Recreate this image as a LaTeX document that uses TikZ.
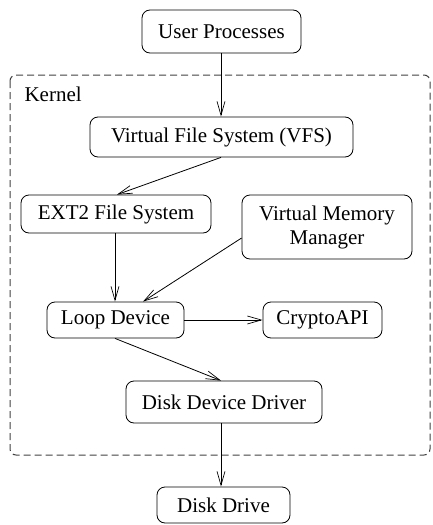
\documentclass[tikz,border=0pt]{standalone}
\usepackage{fontspec}
\setmainfont{Liberation Serif}
\usetikzlibrary{arrows.meta}
\begin{document}
\begin{tikzpicture}[x=1pt,y=-1pt,
  box/.style={draw,rounded corners=8pt,line width=0.8pt,inner sep=0pt,align=center,
    font=\fontsize{21}{24}\selectfont},
  conn/.style={line width=0.8pt,-{Straight Barb[length=14pt,width=8pt,line width=0.7pt]}},
  kernelbox/.style={draw=black!75,dash pattern=on 7pt off 4pt,line width=1pt,rounded corners=6pt}]
\useasboundingbox (0,0) rectangle (432,525);
\draw[kernelbox] (10,75) rectangle (430,455);
\node[anchor=base west,font=\fontsize{21}{24}\selectfont] (kernel) at (21,101) {Kernel};
\node[box,minimum width=159pt,minimum height=43pt] (user) at (221.5,31.5) {User Processes};
\node[box,minimum width=263pt,minimum height=40pt] (vfs) at (221.5,137) {Virtual File System (VFS)};
\node[box,minimum width=190pt,minimum height=38pt] (ext2) at (116,214) {EXT2 File System};
\node[box,minimum width=170pt,minimum height=64pt] (vmm) at (327,227) {Virtual Memory\\Manager};
\node[box,minimum width=137pt,minimum height=36pt] (loop) at (115.5,320) {Loop Device};
\node[box,minimum width=119pt,minimum height=36pt] (crypto) at (322.5,320) {CryptoAPI};
\node[box,minimum width=196pt,minimum height=42pt] (ddd) at (224,402) {Disk Device Driver};
\node[box,minimum width=133pt,minimum height=36pt] (disk) at (223.5,505) {Disk Drive};
\draw[conn] (user.south -| 221,0) -- (vfs.north -| 221,0);
\draw[conn] (vfs.south -| 221,0) -- (ext2.north -| 117,0);
\draw[conn] (ext2.south -| 115,0) -- (loop.north -| 115,0);
\draw[conn] (vmm.west |- 0,238) -- (loop.north -| 143,0);
\draw[conn] (loop.east) -- (crypto.west);
\draw[conn] (loop.south -| 115,0) -- (ddd.north -| 221,0);
\draw[conn] (ddd.south -| 221,0) -- (disk.north -| 221,0);
\end{tikzpicture}
\end{document}
